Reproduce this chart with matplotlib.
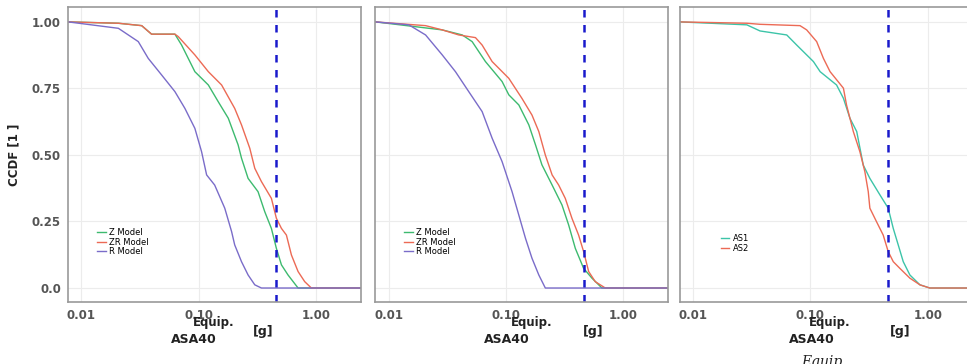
import matplotlib
matplotlib.use("Agg")
import matplotlib.pyplot as plt

# ---- data ----
p1_z_x = [0.00776, 0.0207, 0.0327, 0.0397, 0.0628, 0.0716, 0.0929, 0.121, 0.147, 0.179, 0.217, 0.232, 0.264, 0.321, 0.366, 0.417, 0.46, 0.508, 0.578, 0.704, 2.42]
p1_z_y = [1.0, 0.995, 0.986, 0.954, 0.954, 0.913, 0.813, 0.763, 0.70, 0.638, 0.538, 0.488, 0.412, 0.362, 0.287, 0.224, 0.149, 0.087, 0.049, 0.0, 0.0]
p1_zr_x = [0.00776, 0.0207, 0.0327, 0.0397, 0.0628, 0.067, 0.0929, 0.121, 0.157, 0.203, 0.232, 0.273, 0.301, 0.343, 0.417, 0.46, 0.508, 0.56, 0.618, 0.704, 0.802, 0.914, 2.42]
p1_zr_y = [1.0, 0.995, 0.986, 0.954, 0.954, 0.945, 0.876, 0.813, 0.763, 0.675, 0.613, 0.525, 0.45, 0.40, 0.337, 0.262, 0.224, 0.199, 0.124, 0.062, 0.024, 0.0, 0.0]
p1_r_x = [0.00776, 0.0207, 0.0306, 0.0372, 0.0483, 0.0628, 0.0764, 0.0929, 0.106, 0.117, 0.137, 0.167, 0.191, 0.203, 0.232, 0.264, 0.301, 0.343, 2.42]
p1_r_y = [1.0, 0.976, 0.926, 0.863, 0.801, 0.738, 0.675, 0.60, 0.512, 0.425, 0.387, 0.30, 0.212, 0.162, 0.099, 0.049, 0.012, 0.0, 0.0]

p2_z_x = [0.00776, 0.0287, 0.0425, 0.0516, 0.067, 0.0929, 0.106, 0.129, 0.157, 0.179, 0.203, 0.248, 0.301, 0.343, 0.391, 0.46, 0.542, 0.659, 2.42]
p2_z_y = [1.0, 0.970, 0.951, 0.926, 0.851, 0.776, 0.726, 0.688, 0.613, 0.538, 0.463, 0.387, 0.312, 0.237, 0.149, 0.074, 0.037, 0.0, 0.0]
p2_zr_x = [0.00776, 0.0207, 0.0287, 0.0397, 0.0551, 0.0628, 0.0764, 0.106, 0.137, 0.167, 0.191, 0.217, 0.248, 0.282, 0.321, 0.366, 0.417, 0.46, 0.508, 0.578, 0.704, 2.42]
p2_zr_y = [1.0, 0.986, 0.970, 0.951, 0.941, 0.913, 0.851, 0.788, 0.713, 0.650, 0.588, 0.500, 0.425, 0.387, 0.337, 0.262, 0.199, 0.137, 0.062, 0.024, 0.0, 0.0]
p2_r_x = [0.00776, 0.0149, 0.0207, 0.0287, 0.0372, 0.0483, 0.0628, 0.0764, 0.0929, 0.113, 0.129, 0.147, 0.167, 0.191, 0.217, 2.42]
p2_r_y = [1.0, 0.989, 0.951, 0.876, 0.813, 0.738, 0.663, 0.563, 0.475, 0.362, 0.274, 0.187, 0.112, 0.049, 0.0, 0.0]

p3_as1_x = [0.00776, 0.0287, 0.0372, 0.0628, 0.0764, 0.0929, 0.106, 0.121, 0.167, 0.191, 0.217, 0.248, 0.282, 0.321, 0.391, 0.46, 0.508, 0.56, 0.618, 0.704, 0.857, 1.04, 2.42]
p3_as1_y = [1.0, 0.989, 0.966, 0.951, 0.913, 0.876, 0.851, 0.813, 0.763, 0.713, 0.638, 0.588, 0.462, 0.412, 0.350, 0.300, 0.224, 0.162, 0.099, 0.049, 0.012, 0.0, 0.0]
p3_as2_x = [0.00776, 0.0287, 0.0372, 0.0815, 0.0929, 0.113, 0.129, 0.147, 0.191, 0.203, 0.232, 0.264, 0.291, 0.311, 0.321, 0.366, 0.417, 0.46, 0.508, 0.578, 0.704, 0.857, 1.04, 2.42]
p3_as2_y = [1.0, 0.995, 0.991, 0.986, 0.970, 0.926, 0.863, 0.813, 0.751, 0.688, 0.588, 0.512, 0.437, 0.362, 0.300, 0.249, 0.199, 0.137, 0.099, 0.074, 0.037, 0.012, 0.0, 0.0]

threshold = 0.46
xticks = [0.01, 0.1, 1.0]
xtick_labels = ["0.01", "0.10", "1.00"]
yticks = [0.0, 0.25, 0.5, 0.75, 1.0]
ytick_labels = ["0.0", "0.25", "0.50", "0.75", "1.00"]

GREEN = "#3dba6f"
RED = "#ec6a55"
PURPLE = "#7a6cc9"
TEAL = "#3cc4a8"

panels = [
    [(p1_z_x, p1_z_y, "Z Model", GREEN), (p1_zr_x, p1_zr_y, "ZR Model", RED), (p1_r_x, p1_r_y, "R Model", PURPLE)],
    [(p2_z_x, p2_z_y, "Z Model", GREEN), (p2_zr_x, p2_zr_y, "ZR Model", RED), (p2_r_x, p2_r_y, "R Model", PURPLE)],
    [(p3_as1_x, p3_as1_y, "AS1", TEAL), (p3_as2_x, p3_as2_y, "AS2", RED)],
]

fig = plt.figure(figsize=(9.67, 3.64), dpi=100)
lefts = [0.0703, 0.388, 0.703]
legend_pos = [(0.08, 0.27), (0.08, 0.27), (0.12, 0.25)]

for i, series in enumerate(panels):
    ax = fig.add_axes([lefts[i], 0.170, 0.303, 0.810])
    for x, y, lab, col in series:
        ax.plot(x, y, color=col, lw=1.0, label=lab)
    ax.axvline(threshold, color="#1a1acc", ls=(0, (3, 3)), lw=1.8)
    ax.set_xscale("log")
    ax.set_xlim(0.0077, 2.42)
    ax.set_ylim(-0.053, 1.055)
    ax.set_xticks(xticks)
    ax.set_xticklabels(xtick_labels)
    ax.minorticks_off()
    ax.set_yticks(yticks)
    if i == 0:
        ax.set_yticklabels(ytick_labels)
        ax.set_ylabel("CCDF [1 ]", fontsize=8.5, fontweight="bold", color="#222222", labelpad=8)
    else:
        ax.set_yticklabels([])
    ax.tick_params(length=0, labelsize=8.5, labelcolor="#555555", pad=5)
    for lbl in ax.get_xticklabels() + ax.get_yticklabels():
        lbl.set_fontweight("bold")
    ax.grid(True, color="#ececec", lw=0.8)
    ax.set_axisbelow(True)
    for sp in ax.spines.values():
        sp.set_color("#999999")
        sp.set_linewidth(1.2)
    ax.legend(loc="upper left", bbox_to_anchor=legend_pos[i], frameon=False,
              fontsize=6, handlelength=1.0, handletextpad=0.4, labelspacing=0.05,
              borderpad=0.2)

# x labels (Equip. / ASA40 / [g]) as drawn in the reference
label_x = [(0.221, 0.200, 0.272), (0.550, 0.524, 0.613), (0.858, 0.840, 0.931)]
for ex, ax_, gx in label_x:
    fig.text(ex, 0.113, "Equip.", ha="center", va="center", fontsize=8.5, fontweight="bold", color="#222222")
    fig.text(ax_, 0.066, "ASA40", ha="center", va="center", fontsize=9, fontweight="bold", color="#222222")
    fig.text(gx, 0.090, "[g]", ha="center", va="center", fontsize=9, fontweight="bold", color="#222222")
fig.text(0.850, 0.005, "Equip", ha="center", va="center", fontsize=10, style="italic",
         family="DejaVu Serif", color="#222222")

fig.savefig("out.png", dpi=100)
